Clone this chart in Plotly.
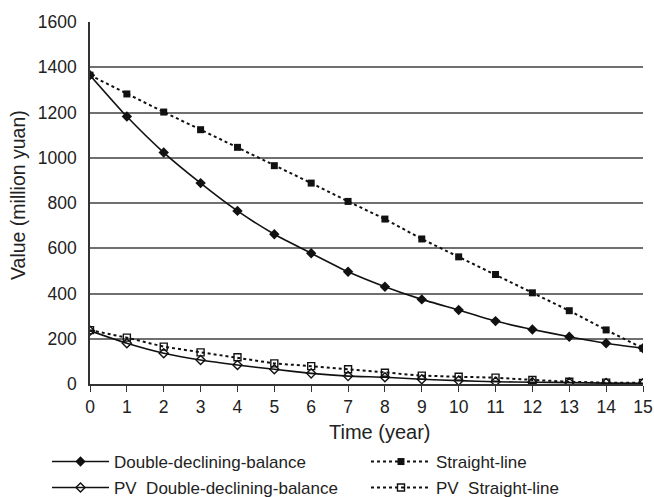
import plotly.graph_objects as go

years = list(range(16))
tick_labels = [str(y) for y in years]
ddb = [1365, 1182, 1023, 888, 765, 662, 578, 496, 430, 374, 327, 278, 241, 209, 180, 158]
sl = [1365, 1282, 1202, 1124, 1046, 965, 888, 807, 729, 641, 562, 484, 403, 324, 239, 158]
pv_ddb = [235, 180, 136, 106, 84, 65, 47, 35, 30, 21, 15, 10, 8, 6, 4, 3]
pv_sl = [238, 205, 165, 140, 118, 91, 79, 65, 50, 37, 32, 28, 18, 10, 6, 5]
y_ticks = list(range(0, 1601, 200))

names = ["Double-declining-balance", "Straight-line",
         "PV  Double-declining-balance", "PV  Straight-line"]

FONT = "Liberation Sans, Arial, sans-serif"
TXT = "#222222"
BLK = "#111111"

fig = go.Figure()
fig.add_trace(go.Scatter(x=years, y=ddb, name=names[0], mode="lines+markers",
                         line=dict(color=BLK, width=1.6, shape="spline", smoothing=0.5),
                         marker=dict(symbol="diamond", size=8, color=BLK),
                         legend="legend"))
fig.add_trace(go.Scatter(x=years, y=sl, name=names[1], mode="lines+markers",
                         line=dict(color=BLK, width=2, dash="dot"),
                         marker=dict(symbol="square", size=7, color=BLK),
                         legend="legend2"))
fig.add_trace(go.Scatter(x=years, y=pv_ddb, name=names[2], mode="lines+markers",
                         line=dict(color=BLK, width=1.6, shape="spline", smoothing=0.5),
                         marker=dict(symbol="diamond-open", size=7, color=BLK, line=dict(width=1.4)),
                         legend="legend3"))
fig.add_trace(go.Scatter(x=years, y=pv_sl, name=names[3], mode="lines+markers",
                         line=dict(color=BLK, width=2, dash="dot"),
                         marker=dict(symbol="square-open", size=7, color=BLK, line=dict(width=1.4)),
                         legend="legend4"))

ml, mr, mt, mb = 90, 11, 22, 113
W, H = 654, 497
pw, ph = W - ml - mr, H - mt - mb

def px_x(p):
    return (p - ml) / pw

def px_y(p):
    return (H - mb - p) / ph

leg_common = dict(orientation="v", xanchor="left", yanchor="middle",
                  bgcolor="rgba(0,0,0,0)", borderwidth=0,
                  font=dict(family=FONT, size=17, color=TXT))

fig.update_layout(
    width=W, height=H,
    showlegend=True,
    margin=dict(l=ml, r=mr, t=mt, b=mb, autoexpand=False),
    paper_bgcolor="white", plot_bgcolor="white",
    font=dict(family=FONT, size=17, color=TXT),
    legend=dict(x=px_x(47), y=px_y(462), itemwidth=57, **leg_common),
    legend2=dict(x=px_x(366), y=px_y(462), itemwidth=60, **leg_common),
    legend3=dict(x=px_x(47), y=px_y(488), itemwidth=57, **leg_common),
    legend4=dict(x=px_x(366), y=px_y(488), itemwidth=60, **leg_common),
    xaxis=dict(range=[0, 15], tickmode="array", tickvals=years, ticktext=tick_labels,
               showgrid=False, zeroline=False, showline=True, linecolor="#333333", linewidth=1.5,
               ticks="outside", ticklen=6, tickwidth=1.2, tickcolor="#333333",
               ticklabeloverflow="allow",
               tickfont=dict(family=FONT, size=17.5, color=TXT)),
    yaxis=dict(range=[0, 1600], tickmode="array", tickvals=y_ticks,
               showgrid=True, gridcolor="#707070", gridwidth=1.5, zeroline=False,
               showline=True, linecolor="#333333", linewidth=1.5, ticks="",
               ticklabelstandoff=8,
               tickfont=dict(family=FONT, size=17.5, color=TXT)),
    annotations=[
        dict(text="Time (year)", xref="paper", yref="paper",
             x=px_x(379), y=px_y(432), xanchor="center", yanchor="middle",
             showarrow=False, font=dict(family=FONT, size=20, color=TXT)),
        dict(text="Value (million yuan)", xref="paper", yref="paper", textangle=-90,
             x=px_x(18), y=px_y(195), xanchor="center", yanchor="middle",
             showarrow=False, font=dict(family=FONT, size=19.5, color=TXT)),
    ],
)

fig.write_html("out.html",
               config={"displayModeBar": False},
               post_script="document.body.style.margin='0';document.body.style.overflow='hidden';")
